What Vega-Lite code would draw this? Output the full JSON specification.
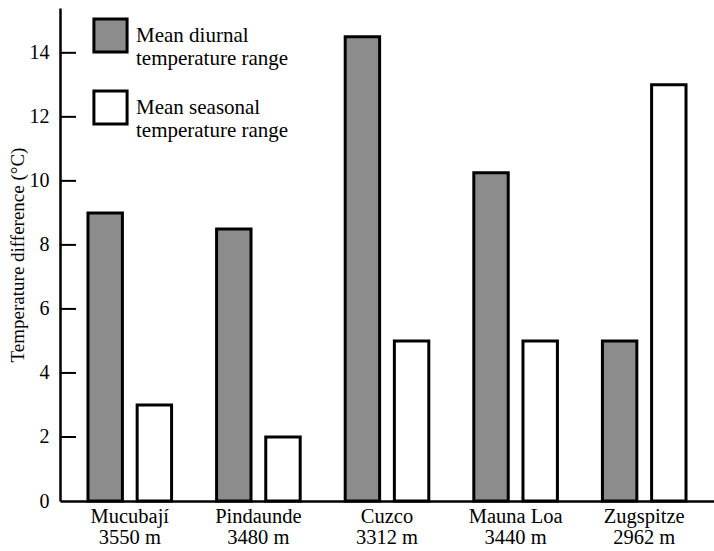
{
  "$schema": "https://vega.github.io/schema/vega-lite/v6.json",
  "autosize": "none",
  "width": 654,
  "height": 493,
  "padding": {"left": 60, "top": 8, "right": 0, "bottom": 50},
  "background": "white",
  "config": {
    "view": {"stroke": null},
    "font": "Liberation Serif",
    "axis": {"labelFont": "Liberation Serif", "titleFont": "Liberation Serif", "labelColor": "black", "titleColor": "black", "domainColor": "black"}
  },
  "layer": [
    {
      "data": {
        "values": [
          {"site": "Mucubají|3550 m", "type": "Mean diurnal|temperature range", "value": 9},
          {"site": "Mucubají|3550 m", "type": "Mean seasonal|temperature range", "value": 3},
          {"site": "Pindaunde|3480 m", "type": "Mean diurnal|temperature range", "value": 8.5},
          {"site": "Pindaunde|3480 m", "type": "Mean seasonal|temperature range", "value": 2},
          {"site": "Cuzco|3312 m", "type": "Mean diurnal|temperature range", "value": 14.5},
          {"site": "Cuzco|3312 m", "type": "Mean seasonal|temperature range", "value": 5},
          {"site": "Mauna Loa|3440 m", "type": "Mean diurnal|temperature range", "value": 10.25},
          {"site": "Mauna Loa|3440 m", "type": "Mean seasonal|temperature range", "value": 5},
          {"site": "Zugspitze|2962 m", "type": "Mean diurnal|temperature range", "value": 5},
          {"site": "Zugspitze|2962 m", "type": "Mean seasonal|temperature range", "value": 13}
        ]
      },
      "mark": {"type": "bar", "stroke": "black", "strokeWidth": 3, "strokeJoin": "miter"},
      "encoding": {
        "x": {
          "field": "site", "type": "nominal", "sort": null,
          "scale": {"paddingInner": 0.35, "paddingOuter": 0.2176},
          "axis": {"title": null, "labelAngle": 0, "ticks": false, "domainWidth": 2.5, "labelFontSize": 20.5, "labelPadding": 5, "labelExpr": "split(datum.label, '|')", "labelLineHeight": 21}
        },
        "xOffset": {"field": "type", "type": "nominal", "sort": null, "scale": {"paddingInner": 0.3}},
        "y": {
          "field": "value", "type": "quantitative",
          "scale": {"domain": [0, 15.4], "nice": false},
          "axis": {"title": "Temperature difference (°C)", "titleFontSize": 19, "titleFontWeight": "normal", "titlePadding": 2, "values": [0, 2, 4, 6, 8, 10, 12, 14], "grid": false, "ticks": false, "domainWidth": 2.5, "labelFontSize": 20, "labelPadding": 11}
        },
        "color": {
          "field": "type", "type": "nominal", "sort": null,
          "scale": {"range": ["#8c8c8c", "white"]},
          "legend": {"title": null, "orient": "none", "legendX": 32, "legendY": 9, "symbolType": "square", "symbolSize": 1100, "symbolStrokeColor": "black", "symbolStrokeWidth": 3, "symbolOpacity": 1, "labelFontSize": 21, "labelFont": "Liberation Serif", "labelColor": "black", "labelExpr": "split(datum.label, '|')", "labelLineHeight": 21, "labelLimit": 300, "rowPadding": 15, "labelOffset": 7}
        }
      }
    },
    {
      "data": {"values": [{"t": 2}, {"t": 4}, {"t": 6}, {"t": 8}, {"t": 10}, {"t": 12}, {"t": 14}]},
      "mark": {"type": "tick", "orient": "horizontal", "size": 16, "thickness": 2, "color": "black", "opacity": 1},
      "encoding": {
        "y": {"field": "t", "type": "quantitative"},
        "x": {"datum": 0.5, "type": "quantitative", "scale": {"domain": [0, 40.875], "nice": false, "zero": false}, "axis": null}
      }
    }
  ],
  "resolve": {"scale": {"x": "independent"}, "axis": {"x": "independent"}}
}
